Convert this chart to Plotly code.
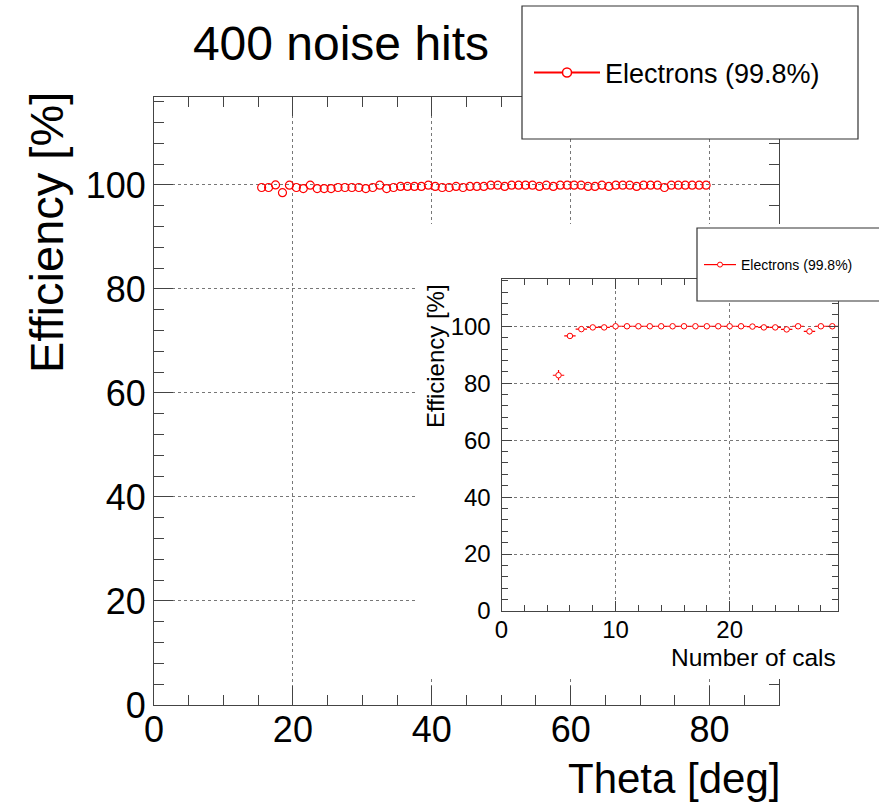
import plotly.graph_objects as go

# ---------------- data ----------------
theta_deg = [15.5, 16.5, 17.5, 18.5, 19.5, 20.5, 21.5, 22.5, 23.5, 24.5,
             25.5, 26.5, 27.5, 28.5, 29.5, 30.5, 31.5, 32.5, 33.5, 34.5,
             35.5, 36.5, 37.5, 38.5, 39.5, 40.5, 41.5, 42.5, 43.5, 44.5,
             45.5, 46.5, 47.5, 48.5, 49.5, 50.5, 51.5, 52.5, 53.5, 54.5,
             55.5, 56.5, 57.5, 58.5, 59.5, 60.5, 61.5, 62.5, 63.5, 64.5,
             65.5, 66.5, 67.5, 68.5, 69.5, 70.5, 71.5, 72.5, 73.5, 74.5,
             75.5, 76.5, 77.5, 78.5, 79.5]
eff_theta = [99.5, 99.5, 100.0, 98.5, 99.95, 99.5, 99.3, 99.95, 99.3, 99.3,
             99.3, 99.5, 99.5, 99.5, 99.5, 99.3, 99.5, 99.95, 99.3, 99.5,
             99.7, 99.7, 99.7, 99.7, 99.95, 99.7, 99.5, 99.5, 99.7, 99.5,
             99.7, 99.7, 99.7, 99.95, 99.95, 99.7, 99.95, 99.95, 99.95, 99.95,
             99.7, 99.95, 99.7, 99.95, 99.95, 99.95, 99.95, 99.7, 99.7, 99.95,
             99.7, 99.95, 99.95, 99.95, 99.7, 99.95, 99.95, 99.95, 99.5, 99.95,
             99.95, 99.95, 99.95, 99.95, 99.95]

n_cals = [5, 6, 7, 8, 9, 10, 11, 12, 13, 14, 15, 16, 17, 18, 19, 20, 21,
          22, 23, 24, 25, 26, 27, 28, 29]
eff_cals = [82.8, 96.6, 99.0, 99.6, 99.6, 100.0, 100.0, 100.0, 100.0, 100.0,
            100.0, 100.0, 100.0, 100.0, 100.0, 100.0, 100.0, 99.9, 99.6, 99.6,
            98.9, 100.0, 98.2, 100.0, 100.0]
err_cals = [1.8, 0.6, 0.3, 0.15, 0.15, 0.05, 0.05, 0.05, 0.05, 0.05,
            0.05, 0.05, 0.05, 0.05, 0.05, 0.05, 0.05, 0.1, 0.2, 0.2,
            0.4, 0.05, 1.0, 0.05, 0.05]
half_bin = [0.5] * len(n_cals)

series_name = "Electrons (99.8%)"
title_text = "400 noise hits"
main_xticks = [0, 20, 40, 60, 80]
main_yticks = [0, 20, 40, 60, 80, 100]
inset_xticks = [0, 10, 20]
inset_yticks = [0, 20, 40, 60, 80, 100]

# ---------------- style ----------------
W, H = 879, 805
RED = "#ff0000"
AX = "#444444"
GRID = "#777777"
FONT = "Liberation Sans, Arial, sans-serif"


def px_x(p):
    return p / W


def px_y(p):
    return 1 - p / H


fig = go.Figure()

# main data
fig.add_trace(go.Scatter(
    x=theta_deg, y=eff_theta, mode="markers", xaxis="x", yaxis="y",
    marker=dict(symbol="circle-open", size=8, color=RED, line=dict(width=1.2, color=RED)),
    showlegend=False, hoverinfo="x+y"))
# legend entry (main)
fig.add_trace(go.Scatter(
    x=[None], y=[None], mode="lines+markers", name=series_name, legend="legend",
    xaxis="x", yaxis="y",
    line=dict(color=RED, width=2),
    marker=dict(symbol="circle", size=9, color="white", line=dict(width=1.5, color=RED))))

# pad (white background for inset)
fig.add_trace(go.Scatter(x=[None], y=[None], xaxis="x2", yaxis="y2",
                         showlegend=False, hoverinfo="skip"))

# inset data
fig.add_trace(go.Scatter(
    x=n_cals, y=eff_cals, mode="markers", xaxis="x3", yaxis="y3",
    error_x=dict(type="data", array=half_bin, color=RED, thickness=1.2, width=0),
    error_y=dict(type="data", array=err_cals, color=RED, thickness=1.2, width=0),
    marker=dict(symbol="circle", size=5.5, color="white", line=dict(width=1, color=RED)),
    showlegend=False))
# legend entry (inset)
fig.add_trace(go.Scatter(
    x=[None], y=[None], mode="lines+markers", name=series_name, legend="legend2",
    xaxis="x3", yaxis="y3",
    line=dict(color=RED, width=1.2),
    marker=dict(symbol="circle", size=5, color="white", line=dict(width=1, color=RED))))

common = dict(showline=True, linecolor=AX, linewidth=1, mirror="ticks",
              ticks="inside", tickcolor=AX, zeroline=False, automargin=False,
              showgrid=True, gridcolor=GRID, griddash="dot", gridwidth=1)

fig.update_layout(
    template="none",
    width=W, height=H,
    margin=dict(l=0, r=0, t=0, b=0, pad=0, autoexpand=False),
    paper_bgcolor="white", plot_bgcolor="white",
    font=dict(family=FONT, color="black"),
    title=dict(text=title_text, x=px_x(341), y=px_y(43), xanchor="center", yanchor="middle",
               font=dict(size=48, family=FONT, color="black")),
    xaxis=dict(domain=[px_x(154), px_x(779)], range=[0, 90], anchor="y",
               tickmode="array", tickvals=main_xticks, ticklen=19, ticklabelstandoff=-7,
               tickfont=dict(size=36, family=FONT, color="black"),
               minor=dict(dtick=5, ticks="inside", ticklen=10, tickcolor=AX, showgrid=False),
               **common),
    yaxis=dict(domain=[px_y(705), px_y(97)], range=[0, 116.9], anchor="x",
               tickmode="array", tickvals=main_yticks, ticklen=19,
               tickfont=dict(size=36, family=FONT, color="black"),
               minor=dict(dtick=4, ticks="inside", ticklen=10, tickcolor=AX, showgrid=False),
               **common),
    xaxis2=dict(domain=[px_x(415), 1.0], range=[0, 1], anchor="y2", visible=False,
                showgrid=False, zeroline=False),
    yaxis2=dict(domain=[px_y(679), px_y(224)], range=[0, 1], anchor="x2", visible=False,
                showgrid=False, zeroline=False),
    xaxis3=dict(domain=[px_x(501.5), px_x(838)], range=[0, 29.5], anchor="y3",
                tickmode="array", tickvals=inset_xticks, ticklen=10, ticklabelstandoff=-3,
                tickfont=dict(size=24, family=FONT, color="black"),
                minor=dict(dtick=2, ticks="inside", ticklen=6, tickcolor=AX, showgrid=False),
                **common),
    yaxis3=dict(domain=[px_y(611), px_y(279)], range=[0, 116.6], anchor="x3",
                tickmode="array", tickvals=inset_yticks, ticklen=10, ticklabelstandoff=5,
                tickfont=dict(size=24, family=FONT, color="black"),
                minor=dict(dtick=4, ticks="inside", ticklen=6, tickcolor=AX, showgrid=False),
                **common),
    legend=dict(x=px_x(529), y=px_y(73), xanchor="left", yanchor="middle",
                bgcolor="rgba(0,0,0,0)", borderwidth=0, itemwidth=66,
                font=dict(size=27, family=FONT, color="black")),
    legend2=dict(x=px_x(699), y=px_y(265), xanchor="left", yanchor="middle",
                 bgcolor="rgba(0,0,0,0)", borderwidth=0, itemwidth=32,
                 font=dict(size=14, family=FONT, color="black")),
    shapes=[
        dict(type="rect", xref="paper", yref="paper", layer="above",
             x0=px_x(522), x1=px_x(858), y0=px_y(139), y1=px_y(6),
             fillcolor="white", line=dict(color="#333333", width=1.2)),
        dict(type="rect", xref="paper", yref="paper", layer="above",
             x0=px_x(697), x1=1.02, y0=px_y(301), y1=px_y(228),
             fillcolor="white", line=dict(color="#333333", width=1.2)),
    ],
    annotations=[
        dict(text="Efficiency [%]", textangle=-90, xref="paper", yref="paper",
             x=px_x(47), y=px_y(233), xanchor="center", yanchor="middle",
             showarrow=False, font=dict(size=47, family=FONT, color="black")),
        dict(text="Theta [deg]", xref="paper", yref="paper",
             x=px_x(782), y=px_y(778), xanchor="right", yanchor="middle",
             showarrow=False, font=dict(size=42, family=FONT, color="black")),
        dict(text="Efficiency [%]", textangle=-90, xref="paper", yref="paper",
             x=px_x(435), y=px_y(356), xanchor="center", yanchor="middle",
             showarrow=False, font=dict(size=24, family=FONT, color="black")),
        dict(text="Number of cals", xref="paper", yref="paper",
             x=px_x(838), y=px_y(657), xanchor="right", yanchor="middle",
             showarrow=False, font=dict(size=24.5, family=FONT, color="black")),
    ],
)

fig.write_html("out.html")
